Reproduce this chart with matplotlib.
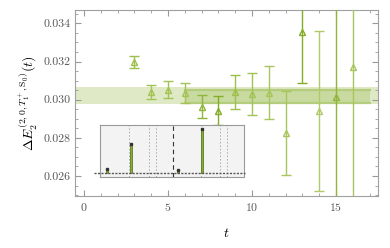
import matplotlib
matplotlib.use('Agg')
from matplotlib import pyplot as plt
from matplotlib.ticker import MultipleLocator

plt.rcParams['font.family'] = 'serif'
plt.rcParams['font.serif'] = ['cmr10', 'DejaVu Serif']
plt.rcParams['mathtext.fontset'] = 'cm'
plt.rcParams['axes.formatter.use_mathtext'] = True

# effective energy data
t_vals = [3, 4, 5, 6, 7, 8, 9, 10, 11, 12, 13, 14, 15, 16]
dE = [0.03198, 0.03042, 0.03052, 0.03037, 0.02963, 0.02943, 0.03040,
      0.03031, 0.03037, 0.02826, 0.03355, 0.02942, 0.03016, 0.03172]
dE_err = [0.00030, 0.00037, 0.00044, 0.00052, 0.00060, 0.00076, 0.00089,
          0.00110, 0.00140, 0.00220, 0.00266, 0.00420, 0.00600, 0.00750]
pt_colors = ['#9dc04a', '#a3c356', '#a3c356', '#a3c356', '#8fb53a', '#84ad26',
             '#9dc04a', '#a3c356', '#a7c65e', '#a7c65e', '#84ad26', '#aecb6c',
             '#8fb53a', '#a7c65e']

# fit results
band_full = (0.02979, 0.03068)
band_fit = (0.02984, 0.03052)
fit_range = (6, 17)

# inset spectrum (arbitrary units)
bar_pos = [0.7, 3.1, 7.8, 10.2]
bar_h = [0.08, 0.60, 0.06, 0.91]
dotted_pos = [2.9, 4.9, 5.6, 10.1, 12.0, 12.7]
dashed_pos = 7.3

fig = plt.figure(figsize=(3.9, 2.48), dpi=100)
ax = fig.add_axes([0.1923, 0.2097, 0.7769, 0.75])

ax.axhspan(*band_full, color='#dfe9c6', lw=0, zorder=0)
ax.fill_between(fit_range, band_fit[0], band_fit[1], color='#c8daa0', lw=0, zorder=1)
for y in band_fit:
    ax.plot(fit_range, [y, y], color='#b3cd7c', lw=1.6, zorder=1)

for x, y, e, c in zip(t_vals, dE, dE_err, pt_colors):
    ax.errorbar(x, y, yerr=e, fmt='^', ms=5, mfc='none', mec=c, mew=1.0,
                ecolor=c, elinewidth=1.0, capsize=3.5, capthick=1.0, zorder=3)

ax.set_xlim(-0.54, 17.5)
ax.set_ylim(0.02495, 0.0347)
ax.xaxis.set_major_locator(MultipleLocator(5))
ax.xaxis.set_minor_locator(MultipleLocator(1))
ax.yaxis.set_major_locator(MultipleLocator(0.002))
ax.yaxis.set_minor_locator(MultipleLocator(0.0005))
ax.yaxis.set_major_formatter(plt.FuncFormatter(lambda v, p: f'{v:.3f}'))
ax.tick_params(which='both', direction='in', top=True, right=True, color='#999999',
               labelsize=8.5, labelcolor='#555555')
ax.tick_params(which='major', length=4, width=0.8)
ax.tick_params(which='minor', length=2, width=0.6)
for s in ax.spines.values():
    s.set_color('#a0a0a0')
    s.set_linewidth(0.8)
ax.set_xlabel('$t$', fontsize=10, labelpad=10)
ax.set_ylabel(r'$\Delta E_2^{(2,0,T_1^+,\mathrm{S}_0)}(t)$', fontsize=10, labelpad=2)

ins = fig.add_axes([0.2564, 0.2863, 0.3692, 0.2097])
ins.set_facecolor('#f3f3f3')
ins.set_xlim(0, 14.4)
ins.set_ylim(-0.08, 1.0)
for x in dotted_pos:
    ins.axvline(x, color='#aaaaaa', ls=(0, (1.5, 2)), lw=0.7)
ins.axvline(dashed_pos, color='#333333', ls=(0, (4, 3)), lw=0.8)
ins.plot([-0.6, 14.5], [0, 0], color='#555555', ls=(0, (1.5, 1)), lw=1.0, clip_on=False, zorder=4)
ins.bar(bar_pos, bar_h, width=0.25, color='#86ad2c', edgecolor='#4d6a14', lw=0.5, zorder=3)
ins.plot(bar_pos, bar_h, 's', ms=1.8, color='#333333', zorder=5)
ins.set_xticks([])
ins.set_yticks([])
for s in ins.spines.values():
    s.set_color('#999999')
    s.set_linewidth(0.8)

fig.savefig('out.png', dpi=100)
